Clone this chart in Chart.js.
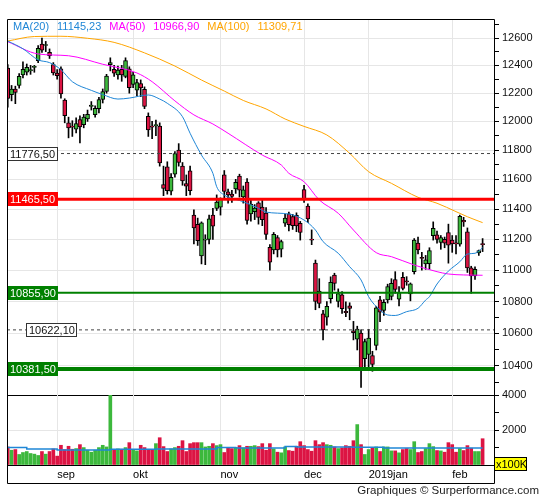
<!DOCTYPE html>
<html>
<head>
<meta charset="utf-8">
<title>DAX daily</title>
<script src="https://cdn.jsdelivr.net/npm/chart.js@4.4.1/dist/chart.umd.min.js"></script>
<style>
  html, body { margin: 0; padding: 0; background: #fff; }
  #wrap { position: relative; width: 545px; height: 500px; overflow: hidden; }
  #price { position: absolute; left: 0; top: 0; }
  #vol { position: absolute; left: 0; top: 380px; }
  #credit { position: absolute; right: 6px; top: 484px; font: 11.5px "Liberation Sans", Arial, sans-serif; color: #222; white-space: nowrap; }
</style>
</head>
<body>
<div id="wrap">
  <canvas id="price" width="545" height="396"></canvas>
  <canvas id="vol" width="545" height="120"></canvas>
  <div id="credit">Graphiques © Surperformance.com</div>
</div>
<script>
// trading days, 15 aug 2018 -> 13 feb 2019 (MM-DD)
const dates = [
  '08-15','08-16','08-17','08-20','08-21','08-22','08-23','08-24','08-27','08-28','08-29','08-30','08-31',
  '09-03','09-04','09-05','09-06','09-07','09-10','09-11','09-12','09-13','09-14','09-17','09-18','09-19','09-20','09-21','09-24','09-25','09-26','09-27','09-28',
  '10-01','10-02','10-03','10-04','10-05','10-08','10-09','10-10','10-11','10-12','10-15','10-16','10-17','10-18','10-19','10-22','10-23','10-24','10-25','10-26','10-29','10-30','10-31',
  '11-01','11-02','11-05','11-06','11-07','11-08','11-09','11-12','11-13','11-14','11-15','11-16','11-19','11-20','11-21','11-22','11-23','11-26','11-27','11-28','11-29','11-30',
  '12-03','12-04','12-05','12-06','12-07','12-10','12-11','12-12','12-13','12-14','12-17','12-18','12-19','12-20','12-21','12-27','12-28',
  '01-02','01-03','01-04','01-07','01-08','01-09','01-10','01-11','01-14','01-15','01-16','01-17','01-18','01-21','01-22','01-23','01-24','01-25','01-28','01-29','01-30','01-31',
  '02-01','02-04','02-05','02-06','02-07','02-08','02-11','02-12','02-13'
];

const opens = [
  12380,12190,12230,12255,12330,12350,12360,12385,12435,12555,
  12545,12495,12405,12345,12375,12150,11990,11965,11945,12012,
  11978,12018,12105,12048,12090,12155,12212,12405,12372,12331,
  12372,12320,12375,12262,12222,12268,12228,12035,11965,11970,
  11968,11565,11685,11520,11636,11800,11690,11572,11658,11360,
  11298,11092,11195,11200,11360,11405,11412,11630,11515,11500,
  11535,11622,11482,11582,11368,11383,11441,11413,11374,11148,
  11131,11211,11135,11306,11368,11350,11358,11306,11530,11420,
  11200,11046,10866,10722,10702,10818,10968,10800,10842,10738,
  10772,10616,10565,10602,10445,10470,10464,10526,10810,10743,
  10810,10832,10940,10815,10953,10932,10848,10990,11175,11082,
  11040,11041,11224,11229,11180,11200,11245,11195,11176,11168,
  11325,11250,11015,10962,11112,11170
];
const highs = [
  12405,12255,12250,12340,12425,12410,12400,12400,12545,12600,
  12575,12520,12420,12370,12390,12160,12030,12005,12025,12040,
  12050,12080,12140,12110,12170,12230,12335,12455,12400,12395,
  12400,12455,12390,12350,12300,12295,12245,12060,12000,12010,
  11990,11690,11720,11640,11790,11845,11715,11630,11690,11395,
  11340,11315,11230,11360,11405,11495,11475,11660,11535,11525,
  11600,11635,11555,11605,11470,11430,11450,11470,11410,11165,
  11245,11225,11195,11365,11380,11365,11375,11318,11560,11435,
  11262,11065,10945,10745,10800,10957,10980,10880,10862,10798,
  10792,10675,10645,10622,10565,10625,10490,10770,10832,10812,
  10910,10945,10990,10895,10985,10958,10918,11205,11215,11115,
  11095,11145,11315,11255,11225,11215,11300,11225,11225,11360,
  11345,11275,11025,11022,11130,11205
];
const lows = [
  12100,12145,12125,12235,12310,12330,12335,12350,12420,12495,
  12500,12450,12330,12300,12165,11990,11885,11895,11920,11850,
  11955,12000,12080,12030,12060,12130,12200,12360,12320,12300,
  12285,12310,12200,12240,12180,12175,12090,11895,11880,11900,
  11690,11490,11500,11495,11615,11690,11560,11490,11495,11170,
  11160,11040,11035,11170,11200,11390,11360,11470,11440,11445,
  11505,11480,11440,11300,11320,11330,11300,11290,11200,11000,
  11105,11085,11085,11285,11255,11265,11250,11195,11445,11310,
  11165,10748,10760,10560,10652,10790,10872,10765,10725,10705,
  10685,10560,10498,10270,10395,10390,10368,10498,10673,10712,
  10790,10810,10852,10772,10873,10903,10804,10975,11105,11000,
  11005,11005,11195,11175,11135,11145,11045,11115,11105,11155,
  11285,10985,10852,10940,11095,11120
];
const closes = [
  12163,12230,12205,12320,12372,12385,12370,12390,12525,12510,
  12550,12470,12345,12325,12195,12040,11955,11960,11985,11962,
  12030,12050,12115,12092,12155,12212,12323,12420,12343,12365,
  12330,12435,12240,12332,12276,12238,12105,11940,11960,11975,
  11712,11539,11524,11614,11776.5,11715,11589,11554,11524,11275,
  11191,11308,11201,11335,11287,11447,11468,11519,11495,11484,
  11579,11527,11529,11325,11434,11406,11344,11330,11232,11052,
  11233,11131,11185,11340,11296,11290,11288,11245,11465.5,11335,
  11195,10800,10788,10622.1,10770,10922,10914,10850,10755,10730,
  10757,10605,10627,10381.5,10549,10572,10409,10760,10732,10795,
  10895,10915,10876,10855.9,10883,10925,10912,11195,11131,11075,
  11066,11127,11272,11200,11212,11175,11162,11170,11170,11352,
  11315,11015,10962,11005,11126,11165
];
// volume, x100K
const volumes = [
  1033,845,883,601,714,770,657,620,545,770,
  620,770,920,507,1127,883,1070,901,939,1164,
  995,845,732,845,995,1127,1033,3990,883,920,
  901,995,1277,845,807,1127,995,845,845,1221,
  1559,1052,770,920,995,1070,1390,770,1221,1277,
  1277,1277,1033,1070,1221,1108,1164,714,977,939,
  1000,1108,977,1070,1070,1108,1052,1221,845,1221,
  920,732,695,1033,826,789,1070,1333,1108,883,
  789,1390,1164,1277,1164,1127,1033,939,977,1108,
  1070,1390,2310,1164,601,883,958,1033,770,1033,
  1033,807,807,695,883,939,883,1333,714,770,
  939,1221,1052,826,807,732,1277,1164,732,939,
  826,1108,958,770,770,1502
];

// moving averages (candle index -> value)
const ma20Idx = [0,4,8,11,14,17,22,25,29,32,37,40,42,46,48,51,54,55,57,60,62,66,68,74,78,81,83,87,90,93,95,98,100,102,105,108,110,111,113,116,119,121,123,125];
const ma20Val = [12578,12521,12440,12420,12369,12282,12220,12190,12158,12165,12187,12158,12128,12033,11917,11766,11641,11550,11494,11465,11449,11405,11380,11367,11327,11261,11185,11109,11022,10937,10830,10746,10715,10712,10736,10757,10809,10830,10911,10994,11054,11104,11109,11145];
const ma50Idx = [0,8,16,25,34,38,44,49,54,58,67,72,74,78,82,87,91,97,101,107,113,116,120,125];
const ma50Val = [12573,12483,12470,12408,12345,12282,12145,12046,11982,11917,11766,11698,11641,11584,11461,11372,11261,11113,11087,11033,10990,10975,10969,10967];
const ma100Idx = [0,7,14,21,28,36,44,51,57,62,68,73,78,84,90,95,101,108,113,118,121,125];
const ma100Val = [12578,12611,12613,12598,12568,12491,12395,12294,12215,12148,12088,12017,11965,11905,11778,11652,11573,11479,11439,11383,11349,11310];
const volMaIdx = [0,5,13,27,39,55,60,73,76,91,99,125];
const volMaVal = [995,920,864,901,920,995,977,1052,1033,1014,977,977];

const maNames = ['MA(20)', 'MA(50)', 'MA(100)'];
const maLast = [11145.23, 10966.90, 11309.71];
const levels = [11776.50, 11465.50, 10855.90, 10622.10, 10381.50];

const priceLabelTicks = [10400,10600,10800,11000,11200,11400,11600,11800,12000,12200,12400,12600];
const priceMinorTicks = [10300,10500,10700,10900,11100,11300,11500,11700,11900,12100,12300,12500,12700];
const monthNames = ['sep', 'okt', 'nov', 'dec', '2019jan', 'feb'];
const volLabelTicks = [2000, 4000];
const volMinorTicks = [0, 1000, 3000];

// styles
const GREEN = '#3cb83c', RED = '#dc1443', BLUE = '#1f86d6', MAGENTA = '#ff00ff', ORANGE = '#ffa500';
const GRID = '#e6e6e6';
const FONT = '"Liberation Sans", Arial, sans-serif';
const maColors = [BLUE, MAGENTA, ORANGE];
const levelStyle = [
  { line: '#444', width: 1, dash: [3, 3], fill: '#fff', text: '#111', boxX: 7 },
  { line: '#ff0000', width: 3, dash: [], fill: '#ff0000', text: '#fff', boxX: 7 },
  { line: '#008000', width: 2, dash: [], fill: '#008000', text: '#fff', boxX: 7 },
  { line: '#444', width: 1, dash: [3, 3], fill: '#fff', text: '#111', boxX: 26 },
  { line: '#008000', width: 4, dash: [], fill: '#008000', text: '#fff', boxX: 7 }
];

Chart.defaults.font.family = FONT;
Chart.defaults.font.size = 11;
Chart.defaults.color = '#111';

const X_MIN = -0.2, X_MAX = 128;

// first trading day of each month -> grid line
const monthIdx = [];
dates.forEach((d, i) => {
  if (i > 0 && d.slice(0, 2) !== dates[i - 1].slice(0, 2)) monthIdx.push(i);
});

const candleColor = closes.map((c, i) => c >= opens[i] ? GREEN : RED);
const toPts = (idx, val) => idx.map((x, k) => ({ x, y: val[k] }));
const fmt = v => v.toFixed(2).replace('.', ',');

function monthAxis(showLabels) {
  return {
    type: 'linear', min: X_MIN, max: X_MAX, bounds: 'data', offset: false,
    afterBuildTicks: s => { s.ticks = monthIdx.map(v => ({ value: v })); },
    afterFit: s => { s.height = showLabels ? 18 : 0; s.paddingLeft = 0; s.paddingRight = 0; },
    grid: { color: GRID, drawTicks: false, offset: false },
    border: { display: false },
    ticks: {
      display: showLabels, align: 'start', maxRotation: 0, autoSkip: false, padding: 3, color: '#000',
      callback: v => monthNames[monthIdx.indexOf(v)]
    }
  };
}

const priceDecor = {
  id: 'priceDecor',
  afterDraw(chart) {
    const { ctx, chartArea: a, scales: { y } } = chart;
    ctx.save();
    // support / resistance lines
    levels.forEach((v, k) => {
      const s = levelStyle[k];
      const py = y.getPixelForValue(v);
      ctx.beginPath();
      ctx.setLineDash(s.dash);
      ctx.lineWidth = s.width;
      ctx.strokeStyle = s.line;
      ctx.moveTo(a.left, py);
      ctx.lineTo(a.right, py);
      ctx.stroke();
    });
    ctx.setLineDash([]);
    ctx.font = '11px ' + FONT;
    ctx.textBaseline = 'middle';
    ctx.textAlign = 'left';
    levels.forEach((v, k) => {
      const s = levelStyle[k];
      const py = Math.round(y.getPixelForValue(v));
      const txt = fmt(v);
      const w = Math.ceil(ctx.measureText(txt).width) + 5;
      ctx.fillStyle = s.fill;
      ctx.fillRect(s.boxX, py - 7, w, 14);
      if (s.fill === '#fff') {
        ctx.strokeStyle = '#333';
        ctx.lineWidth = 1;
        ctx.strokeRect(s.boxX + 0.5, py - 6.5, w - 1, 13);
      }
      ctx.fillStyle = s.text;
      ctx.fillText(txt, s.boxX + 3, py + 0.5);
    });
    // legend
    let lx = 13;
    maNames.forEach((n, k) => {
      ctx.fillStyle = maColors[k];
      ctx.fillText(n, lx, 27);
      lx += ctx.measureText(n).width + 8;
      const t = fmt(maLast[k]);
      ctx.fillText(t, lx, 27);
      lx += ctx.measureText(t).width + 8;
    });
    // frame
    ctx.strokeStyle = '#000';
    ctx.lineWidth = 1;
    ctx.beginPath();
    ctx.moveTo(a.left + 0.5, a.bottom);
    ctx.lineTo(a.left + 0.5, a.top + 0.5);
    ctx.lineTo(a.right + 0.5, a.top + 0.5);
    ctx.lineTo(a.right + 0.5, a.bottom);
    ctx.moveTo(a.left, a.bottom - 0.5);
    ctx.lineTo(a.right + 1, a.bottom - 0.5);
    ctx.stroke();
    ctx.restore();
  }
};

const volDecor = {
  id: 'volDecor',
  afterDraw(chart) {
    const { ctx, chartArea: a } = chart;
    const bandBottom = a.bottom + 18;
    ctx.save();
    ctx.strokeStyle = '#000';
    ctx.lineWidth = 1;
    ctx.beginPath();
    ctx.moveTo(a.left + 0.5, a.top);
    ctx.lineTo(a.left + 0.5, bandBottom + 0.5);
    ctx.lineTo(a.right + 0.5, bandBottom + 0.5);
    ctx.lineTo(a.right + 0.5, a.top);
    ctx.moveTo(a.left, a.bottom + 0.5);
    ctx.lineTo(a.right, a.bottom + 0.5);
    ctx.stroke();
    // unit box
    ctx.fillStyle = '#ffff00';
    ctx.fillRect(a.right, a.bottom - 8, 33, 14);
    ctx.strokeRect(a.right + 0.5, a.bottom - 7.5, 32, 13);
    ctx.fillStyle = '#000';
    ctx.font = '11px ' + FONT;
    ctx.textBaseline = 'middle';
    ctx.textAlign = 'left';
    ctx.fillText('x100K', a.right + 2, a.bottom - 0.5);
    ctx.restore();
  }
};

new Chart(document.getElementById('price'), {
  type: 'bar',
  data: {
    datasets: [
      { type: 'line', data: toPts(ma20Idx, ma20Val), borderColor: BLUE, borderWidth: 1, pointRadius: 0, cubicInterpolationMode: 'monotone', order: 1 },
      { type: 'line', data: toPts(ma50Idx, ma50Val), borderColor: MAGENTA, borderWidth: 1, pointRadius: 0, cubicInterpolationMode: 'monotone', order: 1 },
      { type: 'line', data: toPts(ma100Idx, ma100Val), borderColor: ORANGE, borderWidth: 1, pointRadius: 0, cubicInterpolationMode: 'monotone', order: 1 },
      {
        data: dates.map((d, i) => ({ x: i, y: [lows[i], highs[i]] })),
        backgroundColor: '#000', barThickness: 1, grouped: false, order: 3
      },
      {
        data: dates.map((d, i) => ({ x: i, y: [opens[i], closes[i]] })),
        backgroundColor: candleColor, borderColor: '#000', borderWidth: 1, borderSkipped: false,
        barThickness: 4, minBarLength: 1, grouped: false, order: 2
      }
    ]
  },
  options: {
    responsive: false, animation: false, devicePixelRatio: 1, events: [],
    layout: { padding: { top: 19, left: 7, right: 0, bottom: 0 } },
    plugins: { legend: { display: false }, tooltip: { enabled: false } },
    scales: {
      x: monthAxis(false),
      y: {
        type: 'logarithmic', position: 'right', min: 10219, max: 12741, bounds: 'data', beginAtZero: false,
        afterBuildTicks: s => {
          s.ticks = priceMinorTicks.concat(priceLabelTicks).sort((p, q) => p - q).map(v => ({ value: v }));
        },
        afterFit: s => { s.width = 51; s.paddingTop = 0; s.paddingBottom = 0; },
        grid: {
          color: c => (c.tick && priceLabelTicks.includes(c.tick.value)) ? GRID : 'rgba(0,0,0,0)',
          tickColor: '#000', tickLength: 5
        },
        border: { display: false },
        ticks: { autoSkip: false, padding: 3, color: '#111', callback: v => priceLabelTicks.includes(v) ? String(v) : '' }
      }
    }
  },
  plugins: [priceDecor]
});

new Chart(document.getElementById('vol'), {
  type: 'bar',
  data: {
    datasets: [
      { type: 'line', data: toPts(volMaIdx, volMaVal), stepped: true, borderColor: BLUE, borderWidth: 1.5, pointRadius: 0, order: 1 },
      {
        data: dates.map((d, i) => ({ x: i, y: volumes[i] })),
        backgroundColor: candleColor, barThickness: 3, grouped: false, order: 2
      }
    ]
  },
  options: {
    responsive: false, animation: false, devicePixelRatio: 1, events: [],
    layout: { padding: { top: 15, left: 7, right: 0, bottom: 17 } },
    plugins: { legend: { display: false }, tooltip: { enabled: false } },
    scales: {
      x: monthAxis(true),
      y: {
        type: 'linear', position: 'right', min: 0, max: 4000, bounds: 'data',
        afterBuildTicks: s => {
          s.ticks = volMinorTicks.concat(volLabelTicks).sort((p, q) => p - q).map(v => ({ value: v }));
        },
        afterFit: s => { s.width = 51; s.paddingTop = 0; s.paddingBottom = 0; },
        grid: {
          color: c => (c.tick && c.tick.value === 2000) ? GRID : 'rgba(0,0,0,0)',
          tickColor: '#000', tickLength: 5
        },
        border: { display: false },
        ticks: { autoSkip: false, padding: 3, color: '#111', callback: v => volLabelTicks.includes(v) ? String(v) : '' }
      }
    }
  },
  plugins: [volDecor]
});
</script>
</body>
</html>
